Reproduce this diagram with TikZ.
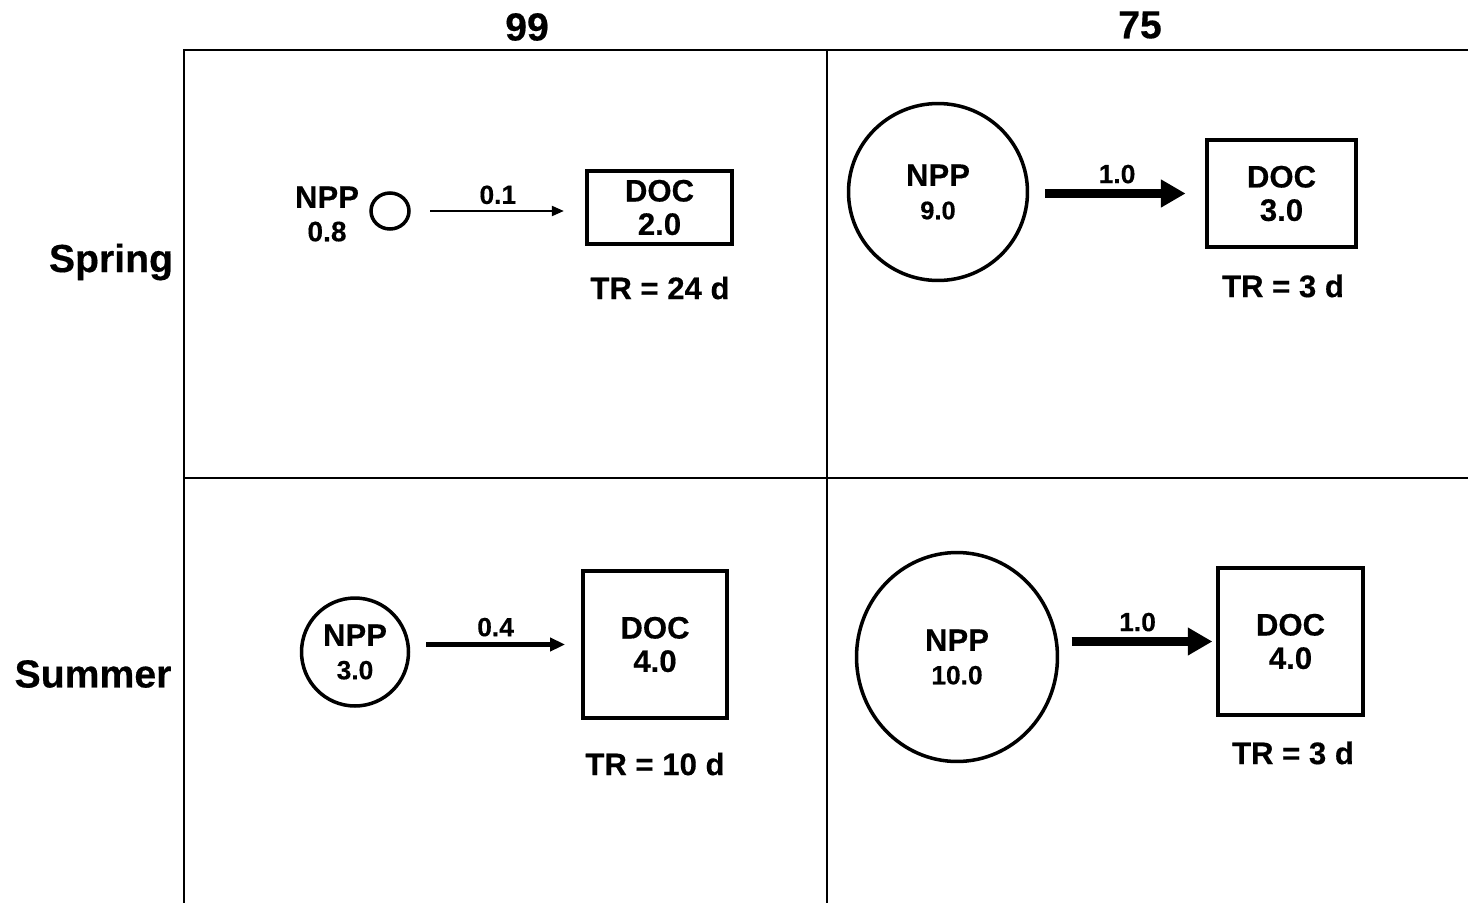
\documentclass[tikz,border=0pt]{standalone}
\usepackage{fontspec}
\setmainfont{Liberation Sans}[BoldFeatures={FakeBold=0.4}]
\usetikzlibrary{arrows.meta,shapes.geometric}
\begin{document}
\begin{tikzpicture}[x=.02cm,y=-.02cm,
                    grid/.style={line width=1.1pt},
                    pool/.style={ellipse,draw,line width=2pt,inner sep=0pt,align=center},
                    box/.style={rectangle,draw,line width=2.4pt,inner sep=0pt,align=center},
                    head/.style={font=\fontsize{22.3}{25}\bfseries\selectfont},
                    txt/.style={font=\fontsize{17.7}{19}\bfseries\selectfont},
                    num/.style={font=\fontsize{15}{16}\bfseries\selectfont},
                    flux/.style={line width=#1}]
 \useasboundingbox (0,0) rectangle (1468,903);
 % frame
 \draw[grid] (184,903)--(184,50)--(1468,50);
 \draw[grid] (827,50)--(827,903);
 \draw[grid] (184,478)--(1468,478);
 \node[head] (h99) at (527,27) {99};
 \node[head] (h75) at (1140,25) {75};
 \node[head] (spring) at (111,262) {Spring};
 \node[head] (summer) at (93,674) {Summer};
 % spring, 99
 \node[pool,minimum width=.76cm,minimum height=.72cm] (npp1) at (390,211) {};
 \node[txt,align=center] (nl1) at (327,214) {NPP\\\fontsize{16}{17}\selectfont 0.8};
 \node[box,txt,minimum width=2.9cm,minimum height=1.46cm] (doc1) at (659.5,207.5) {DOC\\2.0};
 \node[txt] (tr1) at (660,288) {TR = 24 d};
 \draw[flux=1.1pt,-{Triangle[length=6.8pt,width=5.7pt]},shorten <=11pt,shorten >=12pt]
   (npp1.east) -- (npp1.east -| doc1.west) node[midway,above,num] {0.1};
 % spring, 75
 \node[pool,txt,minimum width=3.58cm,minimum height=3.54cm] (npp2) at (938,192) {NPP\\\fontsize{14.5}{16}\selectfont 9.0};
 \node[box,txt,minimum width=2.98cm,minimum height=2.14cm] (doc2) at (1281.5,193.5) {DOC\\3.0};
 \node[txt] (tr2) at (1283,286) {TR = 3 d};
 \draw[flux=4.8pt,-{Triangle[length=14pt,width=15pt]},shorten <=9pt,shorten >=11pt]
   (npp2.east |- doc2.west) -- (doc2.west) node[midway,above,num] {1.0};
 % summer, 99
 \node[pool,txt,minimum width=2.14cm,minimum height=2.16cm] (npp3) at (355,652) {NPP\\\fontsize{15}{16}\selectfont 3.0};
 \node[box,txt,minimum width=2.88cm,minimum height=2.94cm] (doc3) at (655,644.5) {DOC\\4.0};
 \node[txt] (tr3) at (655,764) {TR = 10 d};
 \draw[flux=2.5pt,-{Triangle[length=8.5pt,width=7.4pt]},shorten <=9pt,shorten >=9pt]
   (npp3.east |- doc3.west) -- (doc3.west) node[midway,above,num] {0.4};
 % summer, 75
 \node[pool,txt,minimum width=4.02cm,minimum height=4.18cm] (npp4) at (957,657) {NPP\\\fontsize{15}{16}\selectfont 10.0};
 \node[box,txt,minimum width=2.9cm,minimum height=2.94cm] (doc4) at (1290.5,641.5) {DOC\\4.0};
 \node[txt] (tr4) at (1293,753) {TR = 3 d};
 \draw[flux=4.8pt,-{Triangle[length=14pt,width=15pt]},shorten <=7pt,shorten >=2pt]
   (npp4.east |- doc4.west) -- (doc4.west) node[midway,above,num] {1.0};
\end{tikzpicture}
\end{document}
